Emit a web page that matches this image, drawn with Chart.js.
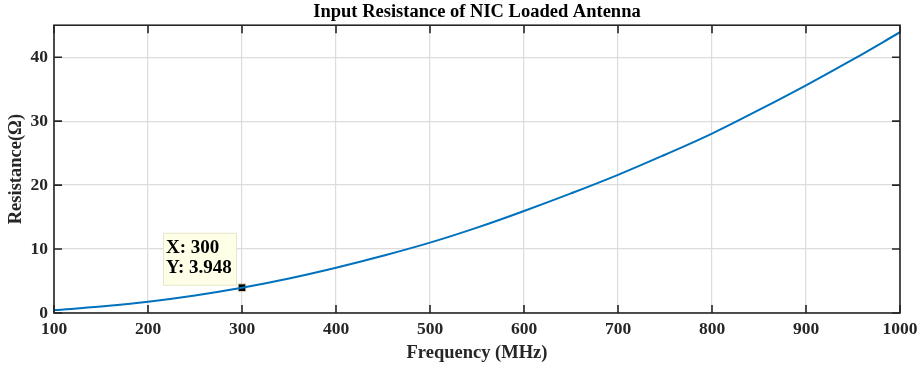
<!DOCTYPE html>
<html>
<head>
<meta charset="utf-8">
<script src="https://cdn.jsdelivr.net/npm/chart.js@4.4.1/dist/chart.umd.min.js"></script>
<style>
html,body{margin:0;padding:0;background:#fff;}
#wrap{width:920px;height:369px;}
</style>
</head>
<body>
<div id="wrap"><canvas id="c" width="920" height="369"></canvas></div>
<script>
const frequency = [100,150,200,250,300,350,400,450,500,550,600,650,700,750,800,850,900,950,1000];
const resistance = [0.45,1.0,1.77,2.75,3.948,5.4,7.08,8.95,11.0,13.35,15.95,18.7,21.6,24.75,28.05,31.75,35.6,39.65,43.9];
const tipX = [300];
const tipY = [3.948];
const xTicks = [100,200,300,400,500,600,700,800,900,1000];
const yTicks = [0,10,20,30,40];

const FONT = "'Liberation Serif','Times New Roman',serif";

const boxPlugin = {
  id: 'boxPlugin',
  afterLayout(chart) {
    if (chart.titleBlock) {
      chart.titleBlock.left = chart.chartArea.left;
      chart.titleBlock.right = chart.chartArea.right;
      chart.titleBlock.width = chart.chartArea.right - chart.chartArea.left;
    }
  },
  afterDatasetsDraw(chart) {
    const {ctx, chartArea: a, scales: {x, y}} = chart;
    ctx.save();
    ctx.strokeStyle = '#262626';
    ctx.lineWidth = 1.6;
    ctx.strokeRect(a.left, a.top, a.right - a.left, a.bottom - a.top);
    const L = 8;
    ctx.beginPath();
    xTicks.forEach(v => {
      const px = x.getPixelForValue(v);
      ctx.moveTo(px, a.bottom); ctx.lineTo(px, a.bottom - L);
      ctx.moveTo(px, a.top); ctx.lineTo(px, a.top + L);
    });
    yTicks.forEach(v => {
      const py = y.getPixelForValue(v);
      ctx.moveTo(a.left, py); ctx.lineTo(a.left + L, py);
      ctx.moveTo(a.right, py); ctx.lineTo(a.right - L, py);
    });
    ctx.stroke();
    ctx.restore();
  },
  afterDraw(chart) {
    const {ctx, scales: {x, y}} = chart;
    ctx.save();
    const mx = x.getPixelForValue(tipX[0]);
    const my = y.getPixelForValue(tipY[0]);
    const bx = mx - 79, by = my - 55, bw = 74, bh = 53;
    ctx.fillStyle = '#ffffe8';
    ctx.strokeStyle = '#e6e6cc';
    ctx.lineWidth = 1;
    ctx.fillRect(bx, by, bw, bh);
    ctx.strokeRect(bx + 0.5, by + 0.5, bw - 1, bh - 1);
    ctx.fillStyle = '#000';
    ctx.font = "bold 19px " + FONT;
    ctx.textBaseline = 'middle';
    ctx.textAlign = 'left';
    ctx.fillText('X: ' + tipX[0], bx + 3, by + 15);
    ctx.fillText('Y: ' + tipY[0], bx + 3, by + 35);
    ctx.restore();
  }
};

new Chart(document.getElementById('c'), {
  type: 'line',
  data: {
    datasets: [
      {
        data: frequency.map((f, i) => ({x: f, y: resistance[i]})),
        borderColor: '#0072BD',
        borderWidth: 2,
        pointRadius: 0,
        tension: 0.4,
        fill: false
      },
      {
        data: tipX.map((f, i) => ({x: f, y: tipY[i]})),
        showLine: false,
        pointStyle: 'rect',
        pointRadius: 5.5,
        pointBackgroundColor: '#000',
        pointBorderColor: '#e8e8c8',
        pointBorderWidth: 1
      }
    ]
  },
  options: {
    responsive: false,
    animation: false,
    events: [],
    layout: {padding: {left: 0, right: 20, top: 0, bottom: 0}},
    plugins: {
      legend: {display: false},
      tooltip: {enabled: false},
      title: {
        display: true,
        text: 'Input Resistance of NIC Loaded Antenna',
        color: '#000',
        font: {family: FONT, size: 18.5, weight: 'bold', lineHeight: 1.2},
        padding: {top: 1, bottom: 2}
      }
    },
    scales: {
      x: {
        type: 'linear',
        min: 100, max: 1000,
        afterBuildTicks: s => { s.ticks = xTicks.map(v => ({value: v})); },
        afterFit: s => { s.height = 56; s.paddingLeft = 0; s.paddingRight = 0; },
        grid: {color: '#dcdcdc', lineWidth: 1.2, drawTicks: false},
        border: {display: false},
        ticks: {
          color: '#262626', padding: 6, maxRotation: 0,
          callback: v => String(v),
          font: {family: FONT, size: 17.5, weight: 'bold'}
        },
        title: {
          display: true, text: 'Frequency (MHz)', color: '#262626',
          font: {family: FONT, size: 18.5, weight: 'bold', lineHeight: 1.2},
          padding: {top: 0, bottom: 5}
        }
      },
      y: {
        type: 'linear',
        min: 0, max: 45,
        afterBuildTicks: s => { s.ticks = yTicks.map(v => ({value: v})); },
        afterFit: s => { s.width = 54; s.paddingTop = 0; s.paddingBottom = 0; },
        grid: {color: '#dcdcdc', lineWidth: 1.2, drawTicks: false},
        border: {display: false},
        ticks: {
          color: '#262626', padding: 6,
          callback: v => String(v),
          font: {family: FONT, size: 17.5, weight: 'bold'}
        },
        title: {
          display: true, text: 'Resistance(Ω)', color: '#262626',
          font: {family: FONT, size: 18.5, weight: 'bold', lineHeight: 1.2},
          padding: {top: 5.5, bottom: 0}
        }
      }
    }
  },
  plugins: [boxPlugin]
});
</script>
</body>
</html>
